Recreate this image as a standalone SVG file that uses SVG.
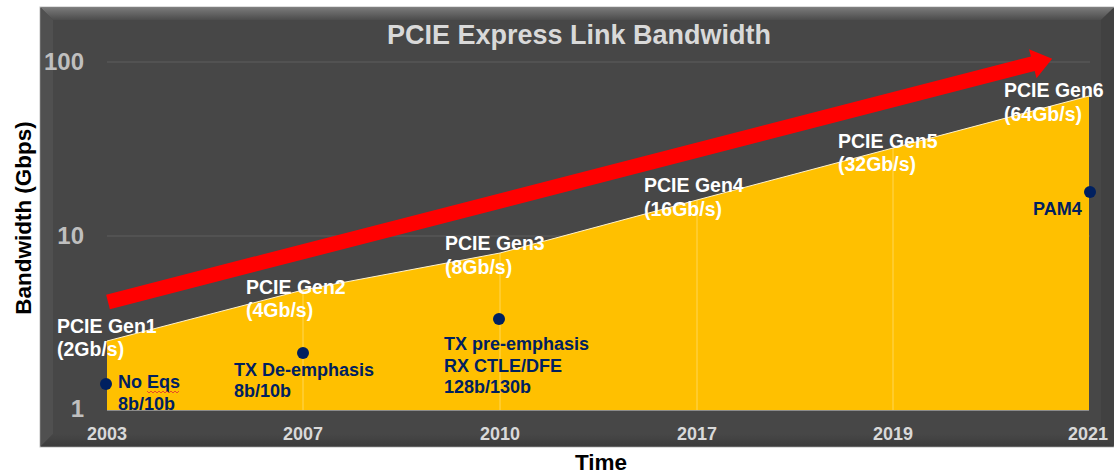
<svg xmlns="http://www.w3.org/2000/svg" width="1114" height="475" viewBox="0 0 1114 475">
  <defs>
    <linearGradient id="topBevel" x1="0" y1="0" x2="0" y2="1">
      <stop offset="0" stop-color="#7a7a7a"/>
      <stop offset="1" stop-color="#4c4c4c"/>
    </linearGradient>
    <linearGradient id="botBevel" x1="0" y1="0" x2="0" y2="1">
      <stop offset="0" stop-color="#474747"/>
      <stop offset="1" stop-color="#3c3c3c"/>
    </linearGradient>
  </defs>
  <style>
    text { font-family: "Liberation Sans", Arial, sans-serif; font-weight: bold; }
    .white { font-size: 19.5px; fill: #ffffff; }
    .navy { font-size: 18px; fill: #002060; }
    .year { font-size: 18px; fill: #d9d9d9; text-anchor: middle; }
    .ytick { font-size: 24px; fill: #bfbfbf; text-anchor: end; }
    .axis { font-size: 22.5px; fill: #000000; text-anchor: middle; }
    .dot { fill: #002060; }
    .grid { stroke: #5e5e5e; stroke-width: 1; }
    .vgrid { stroke: #ffd757; stroke-width: 1; }
  </style>
  <rect width="1114" height="475" fill="#ffffff"/>

  <!-- panel with bevel -->
  <g id="panel">
    <rect x="40" y="7" width="1074" height="440" fill="#474747" stroke="#c0c0c0" stroke-width="1"/>
    <polygon points="40.5,7.5 1114,7.5 1101,20 53,20" fill="url(#topBevel)"/>
    <polygon points="40.5,7.5 53,20 53,434 40.5,446.5" fill="#505050"/>
    <polygon points="40.5,446.5 53,434 1101,434 1114,446.5" fill="url(#botBevel)"/>
    <polygon points="1114,7.5 1101,20 1101,434 1114,446.5" fill="#414141"/>
  </g>

  <!-- gridlines -->
  <g id="gridlines">
    <line class="grid" x1="107" y1="62" x2="1090" y2="62"/>
    <line class="grid" x1="107" y1="236" x2="1090" y2="236"/>
  </g>

  <!-- yellow area -->
  <g id="area">
    <polygon points="107,410 107,341 303,290 500,253 697,200 893,148 1089,96 1089,410" fill="#ffc000"/>
    <line class="vgrid" x1="303" y1="290" x2="303" y2="410"/>
    <line class="vgrid" x1="500" y1="253" x2="500" y2="410"/>
    <line class="vgrid" x1="697" y1="200" x2="697" y2="410"/>
    <line class="vgrid" x1="893" y1="148" x2="893" y2="410"/>
    <polyline points="107,341 303,290 500,253 697,200 893,148 1089,96" fill="none" stroke="#fff2cc" stroke-width="1"/>
    <line x1="107" y1="410.5" x2="1089" y2="410.5" stroke="#8c8c8c" stroke-width="1"/>
  </g>

  <!-- red trend arrow -->
  <g id="connectors">
    <g transform="translate(108,302) rotate(-14.45)">
      <polygon points="0,-7.5 955,-7.5 955,-15 975,0 955,15 955,7.5 0,7.5" fill="#ff0000"/>
    </g>
  </g>

  <!-- title and axes -->
  <text id="title" x="579" y="44" font-size="27" fill="#d9d9d9" text-anchor="middle">PCIE Express Link Bandwidth</text>
  <g id="yticks">
    <text class="ytick" x="84" y="70">100</text>
    <text class="ytick" x="84" y="244">10</text>
    <text class="ytick" x="84" y="417">1</text>
  </g>
  <g id="xticks">
    <text class="year" x="107" y="440">2003</text>
    <text class="year" x="303" y="440">2007</text>
    <text class="year" x="500" y="440">2010</text>
    <text class="year" x="697" y="440">2017</text>
    <text class="year" x="893" y="440">2019</text>
    <text class="year" x="1088" y="440">2021</text>
  </g>
  <text id="xlabel" class="axis" x="601" y="470">Time</text>
  <text id="ylabel" class="axis" transform="translate(31,218) rotate(-90)">Bandwidth (Gbps)</text>

  <!-- generation labels -->
  <g id="gen1"><text class="white" x="57" y="333">PCIE Gen1</text><text class="white" x="57" y="356">(2Gb/s)</text></g>
  <g id="gen2"><text class="white" x="246" y="294">PCIE Gen2</text><text class="white" x="246" y="317">(4Gb/s)</text></g>
  <g id="gen3"><text class="white" x="445" y="250">PCIE Gen3</text><text class="white" x="445" y="274">(8Gb/s)</text></g>
  <g id="gen4"><text class="white" x="644" y="192">PCIE Gen4</text><text class="white" x="644" y="216">(16Gb/s)</text></g>
  <g id="gen5"><text class="white" x="838" y="148">PCIE Gen5</text><text class="white" x="838" y="171">(32Gb/s)</text></g>
  <g id="gen6"><text class="white" x="1004" y="97">PCIE Gen6</text><text class="white" x="1004" y="121">(64Gb/s)</text></g>

  <!-- technique markers -->
  <g id="m2003">
    <circle class="dot" cx="106" cy="384" r="6"/>
    <text class="navy" x="118" y="388">No Eqs</text>
    <text class="navy" x="118" y="410">8b/10b</text>
    <path d="M147,391 l2,2 l2,-2 l2,2 l2,-2 l2,2 l2,-2 l2,2 l2,-2 l2,2 l2,-2 l2,2 l2,-2 l2,2 l2,-2 l2,2 l2,-2" fill="none" stroke="#e03030" stroke-width="0.8"/>
  </g>
  <g id="m2007">
    <circle class="dot" cx="303" cy="353" r="6"/>
    <text class="navy" x="234" y="376">TX De-emphasis</text>
    <text class="navy" x="234" y="397">8b/10b</text>
  </g>
  <g id="m2010">
    <circle class="dot" cx="499" cy="319" r="6"/>
    <text class="navy" x="444" y="350">TX pre-emphasis</text>
    <text class="navy" x="444" y="372">RX CTLE/DFE</text>
    <text class="navy" x="444" y="393">128b/130b</text>
  </g>
  <g id="m2021">
    <circle class="dot" cx="1090" cy="192" r="6"/>
    <text class="navy" x="1033" y="215">PAM4</text>
  </g>
</svg>
